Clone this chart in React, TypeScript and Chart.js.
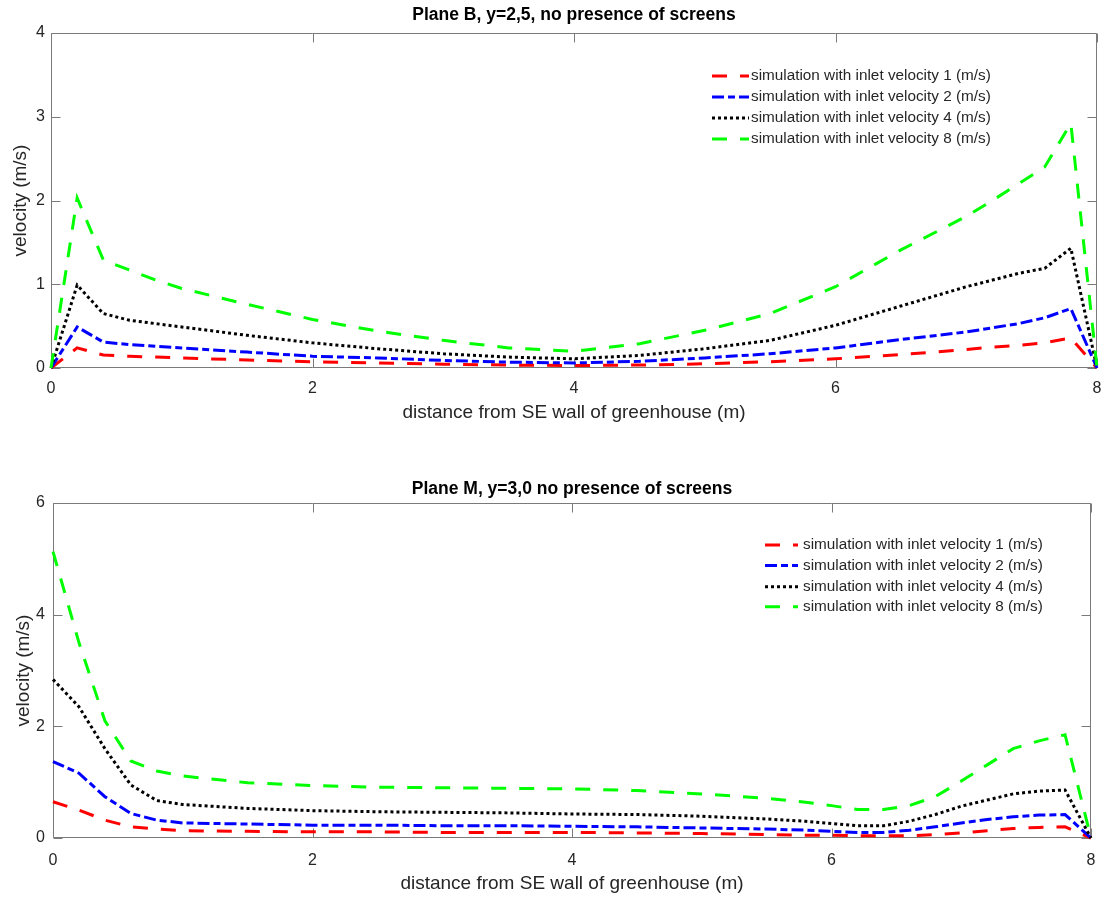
import React, { useEffect, useRef } from 'react';
import { Chart, registerables } from 'chart.js';

Chart.register(...registerables);

const FONT = '"Liberation Sans", Arial, Helvetica, sans-serif';
const TEXT = '#262626';
const AXIS = '#7a7a7a';

const seriesLabels = [
  'simulation with inlet velocity 1 (m/s)',
  'simulation with inlet velocity 2 (m/s)',
  'simulation with inlet velocity 4 (m/s)',
  'simulation with inlet velocity 8 (m/s)',
];
const seriesColors = ['#ff0000', '#0000ff', '#000000', '#00ff00'];
const seriesDashes = [[15, 13], [12, 4, 7, 4], [3, 3], [15, 13]];

const xLabel = 'distance from SE wall of greenhouse (m)';
const yLabel = 'velocity (m/s)';

// ---- Plane B ----
const titleB = 'Plane B, y=2,5, no presence of screens';
const xB = [0, 0.2, 0.4, 0.6, 0.8, 1, 1.5, 2, 2.5, 3, 3.5, 4, 4.5, 5, 5.5, 6, 6.5, 7, 7.2, 7.4, 7.6, 7.8, 8];
const v1B = [0, 0.24, 0.155, 0.14, 0.13, 0.12, 0.095, 0.075, 0.06, 0.045, 0.035, 0.03, 0.035, 0.05, 0.075, 0.11, 0.16, 0.22, 0.25, 0.27, 0.3, 0.36, 0];
const v2B = [0, 0.49, 0.31, 0.28, 0.26, 0.24, 0.19, 0.14, 0.12, 0.09, 0.07, 0.06, 0.08, 0.12, 0.17, 0.24, 0.34, 0.43, 0.48, 0.53, 0.6, 0.71, 0];
const v4B = [0, 0.99, 0.65, 0.57, 0.53, 0.49, 0.39, 0.3, 0.23, 0.17, 0.13, 0.11, 0.15, 0.23, 0.33, 0.51, 0.74, 0.97, 1.05, 1.13, 1.19, 1.43, 0];
const v8B = [0, 2.03, 1.29, 1.17, 1.05, 0.95, 0.76, 0.58, 0.44, 0.33, 0.24, 0.2, 0.29, 0.45, 0.65, 0.97, 1.41, 1.81, 2.0, 2.2, 2.4, 2.92, 0];
const yTicksB = { max: 4, step: 1 };

// ---- Plane M ----
const titleM = 'Plane M, y=3,0 no presence of screens';
const xM = [0, 0.2, 0.4, 0.6, 0.8, 1, 1.5, 2, 2.5, 3, 3.5, 4, 4.5, 5, 5.5, 5.8, 6, 6.2, 6.4, 6.6, 6.8, 7, 7.2, 7.4, 7.6, 7.8, 8];
const v1M = [0.65, 0.5, 0.32, 0.2, 0.16, 0.13, 0.12, 0.11, 0.11, 0.1, 0.1, 0.1, 0.09, 0.08, 0.06, 0.05, 0.05, 0.04, 0.04, 0.04, 0.06, 0.09, 0.13, 0.17, 0.19, 0.2, 0];
const v2M = [1.37, 1.16, 0.74, 0.44, 0.32, 0.27, 0.25, 0.23, 0.23, 0.22, 0.22, 0.21, 0.2, 0.18, 0.16, 0.14, 0.12, 0.1, 0.1, 0.14, 0.2, 0.27, 0.33, 0.38, 0.41, 0.42, 0];
const v4M = [2.84, 2.35, 1.6, 0.95, 0.67, 0.6, 0.53, 0.49, 0.47, 0.46, 0.45, 0.43, 0.42, 0.39, 0.34, 0.3, 0.26, 0.22, 0.22, 0.3, 0.42, 0.57, 0.68, 0.79, 0.84, 0.86, 0];
const v8M = [5.13, 3.5, 2.1, 1.38, 1.2, 1.11, 0.99, 0.94, 0.91, 0.9, 0.89, 0.88, 0.85, 0.79, 0.71, 0.64, 0.58, 0.51, 0.51, 0.58, 0.74, 1.02, 1.31, 1.6, 1.74, 1.85, 0];
const yTicksM = { max: 6, step: 2 };

const axesBox = {
  id: 'axesBox',
  beforeDatasetsDraw(chart: any) {
    const { ctx, chartArea: a, scales } = chart;
    const len = 9;
    ctx.save();
    ctx.strokeStyle = AXIS;
    ctx.lineWidth = 1;
    const L = Math.round(a.left) + 0.5;
    const R = Math.round(a.right) - 0.5;
    const T = Math.round(a.top) + 0.5;
    const B = Math.round(a.bottom) - 0.5;
    ctx.beginPath();
    ctx.rect(L, T, R - L, B - T);
    scales.x.ticks.forEach((t: any) => {
      const px = Math.round(scales.x.getPixelForValue(t.value)) + 0.5;
      ctx.moveTo(px, B); ctx.lineTo(px, B - len);
      ctx.moveTo(px, T); ctx.lineTo(px, T + len);
    });
    scales.y.ticks.forEach((t: any) => {
      const py = Math.round(scales.y.getPixelForValue(t.value)) + 0.5;
      ctx.moveTo(L, py); ctx.lineTo(L + len, py);
      ctx.moveTo(R, py); ctx.lineTo(R - len, py);
    });
    ctx.stroke();
    ctx.restore();
  },
};

function legendPlugin(L: { x0: number; x1: number; tx: number; rows: number[] }) {
  return {
    id: 'mlLegend',
    afterDatasetsDraw(chart: any) {
      const ctx = chart.ctx;
      chart.data.datasets.forEach((ds: any, i: number) => {
        const y = L.rows[i];
        ctx.save();
        ctx.strokeStyle = ds.borderColor;
        ctx.lineWidth = ds.borderWidth;
        ctx.lineCap = 'butt';
        ctx.setLineDash(ds.borderDash);
        ctx.beginPath();
        ctx.moveTo(L.x0, y);
        ctx.lineTo(L.x1, y);
        ctx.stroke();
        ctx.setLineDash([]);
        ctx.fillStyle = TEXT;
        ctx.font = `15.3px ${FONT}`;
        ctx.textBaseline = 'middle';
        ctx.textAlign = 'left';
        ctx.fillText(ds.label, L.tx, y);
        ctx.restore();
      });
    },
  };
}

function makeChart(canvas: HTMLCanvasElement, p: any) {
  return new Chart(canvas, {
    type: 'line',
    data: {
      datasets: p.series.map((vals: number[], i: number) => ({
        label: seriesLabels[i],
        data: p.x.map((x: number, j: number) => ({ x, y: vals[j] })),
        borderColor: seriesColors[i],
        backgroundColor: seriesColors[i],
        borderWidth: 3,
        borderDash: seriesDashes[i],
        pointRadius: 0,
        tension: 0,
        fill: false,
        clip: false,
        order: 3 - i,
      })),
    },
    options: {
      responsive: false,
      animation: false,
      events: [],
      layout: { padding: { left: 0, right: p.padRight, top: 0, bottom: 0 } },
      plugins: {
        legend: { display: false },
        tooltip: { enabled: false },
        title: {
          display: true,
          text: p.title,
          fullSize: false,
          color: '#000',
          font: { family: FONT, size: 17.5, weight: 'bold' },
          padding: { top: p.titlePadTop, bottom: p.titlePadBottom },
        },
      },
      scales: {
        x: {
          type: 'linear',
          min: 0,
          max: 8,
          ticks: { stepSize: 2, color: TEXT, font: { family: FONT, size: 16 }, padding: p.xTickPad, maxRotation: 0 },
          grid: { display: false, drawTicks: false },
          border: { display: false },
          title: { display: true, text: xLabel, color: TEXT, font: { family: FONT, size: 19 }, padding: { top: 0, bottom: p.xTitlePad } },
          afterFit: (s: any) => { s.height = p.xAxisHeight; s.paddingLeft = 0; s.paddingRight = 0; },
        },
        y: {
          type: 'linear',
          min: 0,
          max: p.yMax,
          ticks: { stepSize: p.yStep, color: TEXT, font: { family: FONT, size: 16 }, padding: p.yTickPad },
          grid: { display: false, drawTicks: false },
          border: { display: false },
          title: { display: true, text: yLabel, color: TEXT, font: { family: FONT, size: 19 }, padding: { top: p.yTitlePad, bottom: 0 } },
          afterFit: (s: any) => { s.width = p.yAxisWidth; s.paddingTop = 0; s.paddingBottom = 0; },
        },
      },
    } as any,
    plugins: [axesBox, legendPlugin(p.legend)],
  });
}

export default function App() {
  const topRef = useRef<HTMLCanvasElement>(null);
  const botRef = useRef<HTMLCanvasElement>(null);

  useEffect(() => {
    const c1 = makeChart(topRef.current!, {
      title: titleB,
      x: xB,
      series: [v1B, v2B, v4B, v8B],
      yMax: yTicksB.max,
      yStep: yTicksB.step,
      padRight: 5,
      titlePadTop: 4.5,
      titlePadBottom: 7.5,
      xAxisHeight: 81,
      xTickPad: 11,
      xTitlePad: 24.6,
      yAxisWidth: 51,
      yTickPad: 6,
      yTitlePad: 9.1,
      legend: { x0: 712, x1: 749, tx: 751, rows: [76, 97, 118, 139] },
    });
    const c2 = makeChart(botRef.current!, {
      title: titleM,
      x: xM,
      series: [v1M, v2M, v4M, v8M],
      yMax: yTicksM.max,
      yStep: yTicksM.step,
      padRight: 11,
      titlePadTop: 29.5,
      titlePadBottom: 3.5,
      xAxisHeight: 60,
      xTickPad: 12.6,
      xTitlePad: 2.6,
      yAxisWidth: 53,
      yTickPad: 8,
      yTitlePad: 12.1,
      legend: { x0: 765, x1: 798, tx: 803, rows: [96, 116.5, 137.7, 157.7] },
    });
    return () => { c1.destroy(); c2.destroy(); };
  }, []);

  return (
    <div style={{ position: 'absolute', left: 0, top: 0, width: 1102, height: 898, background: '#fff' }}>
      <canvas ref={topRef} width={1102} height={449} style={{ display: 'block', position: 'absolute', left: 0, top: 0 }} />
      <canvas ref={botRef} width={1102} height={449} style={{ display: 'block', position: 'absolute', left: 0, top: 449 }} />
    </div>
  );
}
